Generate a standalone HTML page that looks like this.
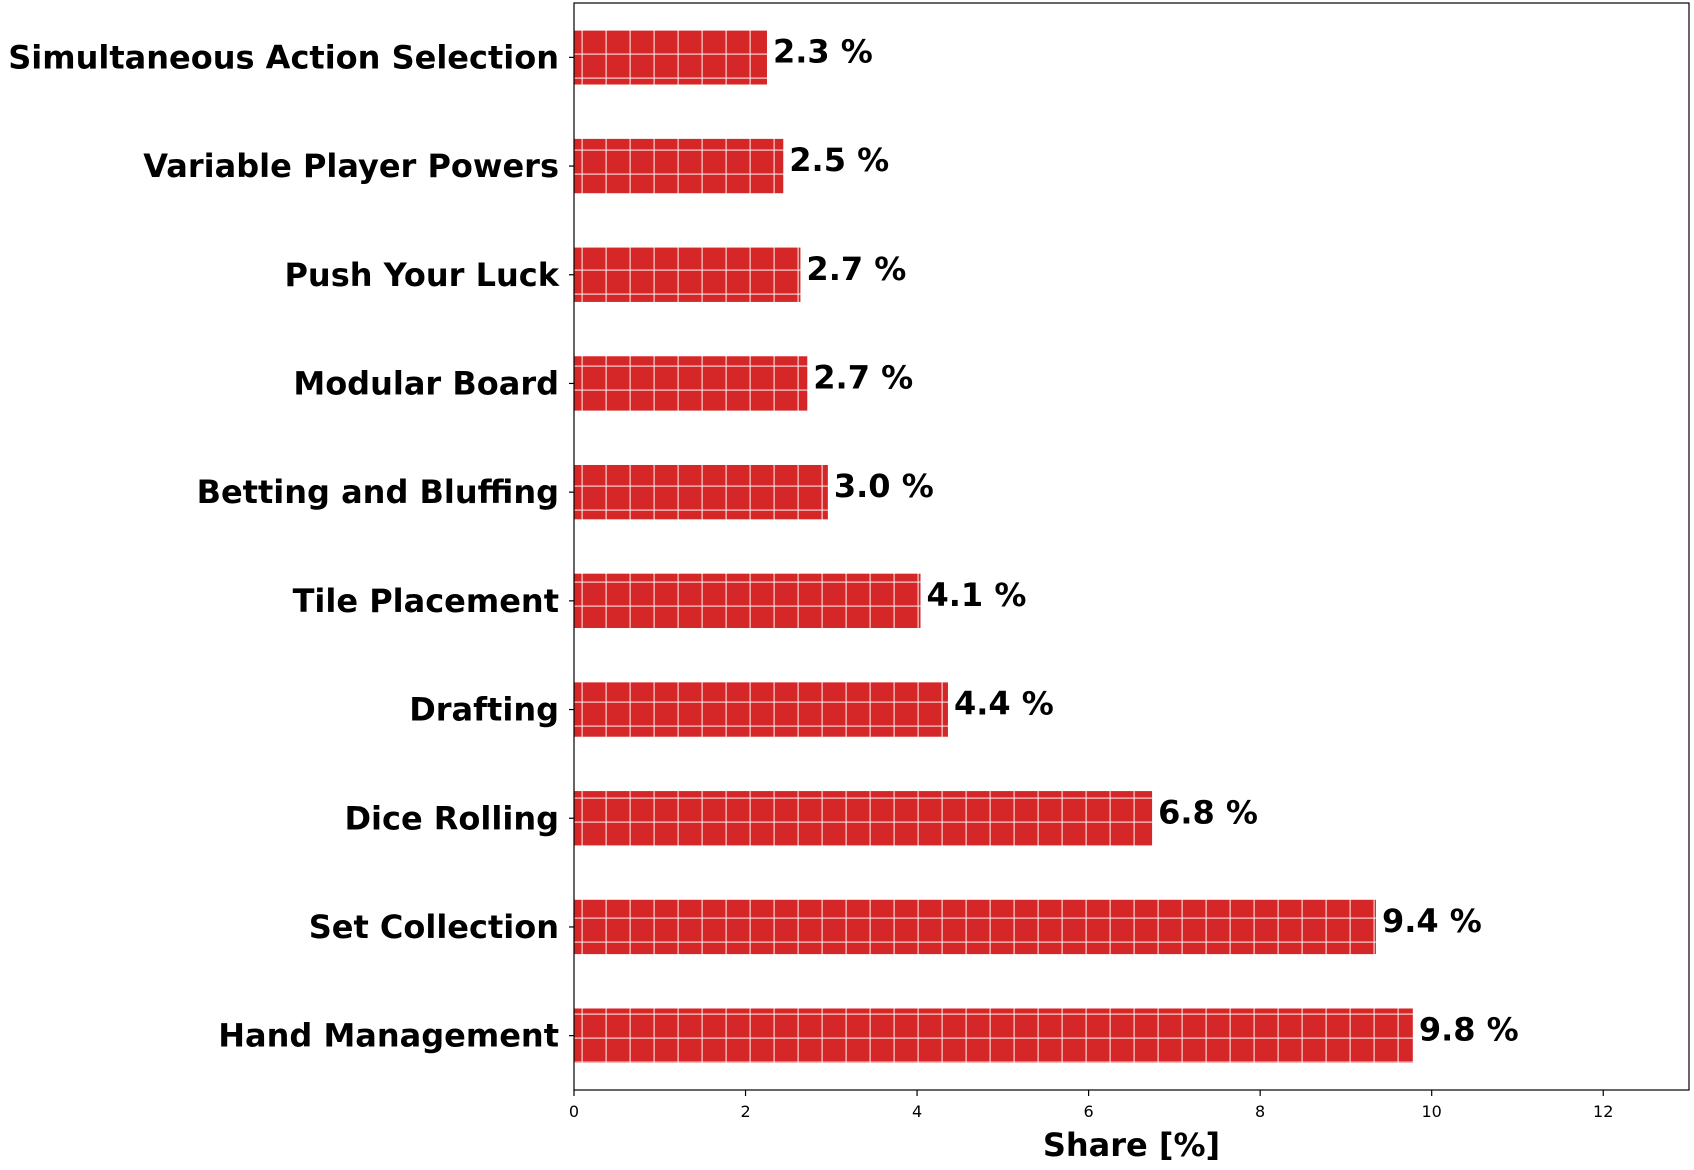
<!DOCTYPE html>
<html><head><meta charset="utf-8"><style>
body{margin:0;background:#fff;}
svg{display:block;font-family:"DejaVu Sans","Liberation Sans",sans-serif;}
</style></head><body>
<svg id="chart" width="1694" height="1170" viewBox="0 0 1694 1170" xmlns="http://www.w3.org/2000/svg">
<defs>
<pattern id="hatch" patternUnits="userSpaceOnUse" x="5.5" y="5.5" width="24" height="24">
<rect width="24" height="24" fill="#d62728"/>
<line x1="0" y1="0" x2="24" y2="0" stroke="#fff" stroke-opacity="0.75" stroke-width="2.5"/>
<line x1="0" y1="0" x2="0" y2="24" stroke="#fff" stroke-opacity="0.75" stroke-width="2.5"/>
</pattern>
</defs>
<g id="plot"></g>
</svg>
<script>
const categories = ["Hand Management","Set Collection","Dice Rolling","Drafting","Tile Placement","Betting and Bluffing","Modular Board","Push Your Luck","Variable Player Powers","Simultaneous Action Selection"];
const values = [9.78, 9.35, 6.74, 4.36, 4.04, 2.96, 2.72, 2.64, 2.44, 2.25];
const valueLabels = ["9.8 %","9.4 %","6.8 %","4.4 %","4.1 %","3.0 %","2.7 %","2.7 %","2.5 %","2.3 %"];
const xTicks = [0,2,4,6,8,10,12];

const NS = "http://www.w3.org/2000/svg";
const L = 574, R = 1689, T = 3, B = 1090;
const xMin = 0, xMax = 13, yMin = -0.5, yMax = 9.5;
const xs = v => L + (v - xMin) / (xMax - xMin) * (R - L);
const ys = i => B - (i - yMin) / (yMax - yMin) * (B - T);
const bandH = (B - T) / (yMax - yMin);
const g = document.getElementById('plot');
function mk(tag, attrs, text){
  const e = document.createElementNS(NS, tag);
  for (const k in attrs) e.setAttribute(k, attrs[k]);
  if (text !== undefined) e.textContent = text;
  g.appendChild(e);
  return e;
}
categories.forEach((c, i) => {
  const cy = ys(i);
  const bar = mk('rect', {x: xs(0), y: cy - bandH*0.25, width: xs(values[i]) - xs(0), height: bandH*0.5, fill: 'url(#hatch)'});
  
  
  const tk = mk('line', {x1: L - 5, x2: L, y1: cy, y2: cy, stroke: '#000', 'stroke-width': 1.2});
  
  
  const lab = mk('text', {x: L - 15, y: cy + 11, 'text-anchor': 'end', 'font-size': 32, 'font-weight': 'bold', fill: '#000'}, c);
  
  
  const vl = mk('text', {x: xs(values[i]) + 6, y: cy + 5, 'font-size': 32, 'font-weight': 'bold', fill: '#000'}, valueLabels[i]);
  
  
});
xTicks.forEach(t => {
  const x = xs(t);
  const tk = mk('line', {x1: x, x2: x, y1: B, y2: B + 6, stroke: '#000', 'stroke-width': 1.2});
  
  
  const tl = mk('text', {x: x, y: B + 27, 'text-anchor': 'middle', 'font-size': 16, fill: '#000'}, String(t));
  
  
});
const frame = mk('rect', {x: L, y: T, width: R - L, height: B - T, fill: 'none', stroke: '#000', 'stroke-width': 1.2});


const xt = mk('text', {x: (L + R) / 2, y: 1156, 'text-anchor': 'middle', 'font-size': 32, 'font-weight': 'bold', fill: '#000'}, 'Share [%]');


</script>
</body></html>
